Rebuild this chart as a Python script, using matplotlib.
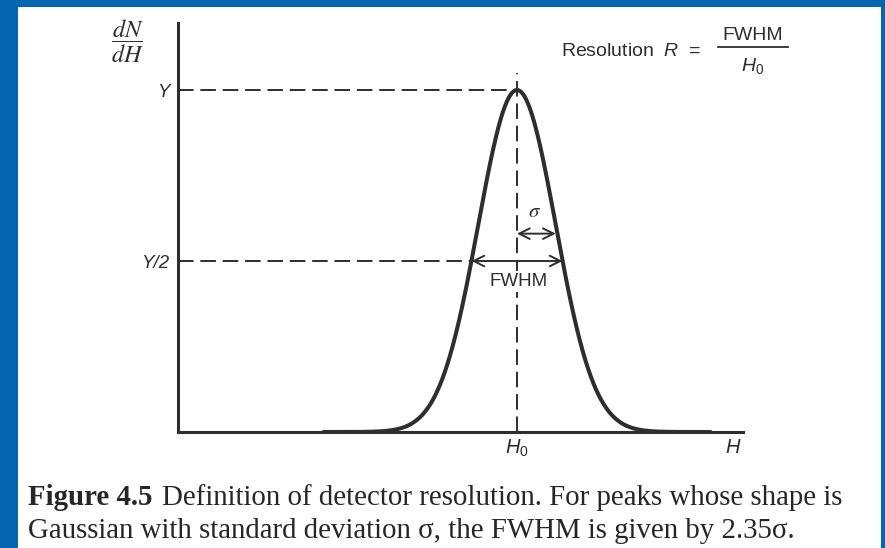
import numpy as np
import matplotlib.pyplot as plt
from matplotlib.patches import Rectangle
from matplotlib.lines import Line2D

plt.rcParams['mathtext.fontset'] = 'custom'
plt.rcParams['mathtext.rm'] = 'Liberation Sans'
plt.rcParams['mathtext.it'] = 'Liberation Sans:italic'
plt.rcParams['mathtext.sf'] = 'Liberation Sans'

# peak parameters (arbitrary units)
H0 = 6.0
sigma = 0.685
Y = 1.0
fwhm = 2.35*sigma
H_end = 9.82

ink = '#2e2e2e'
W, Hpx = 885, 548

fig = plt.figure(figsize=(W/100, Hpx/100), dpi=100, facecolor='#0466b1')
# white page on the blue slide
page = Rectangle((18/W, 0), (881-18)/W, (Hpx-7)/Hpx, transform=fig.transFigure,
                 facecolor='white', edgecolor='none', zorder=-10)
fig.patches.append(page)

ax = fig.add_axes([178/W, (Hpx-432)/Hpx, (743-178)/W, (432-23)/Hpx], zorder=2)
ax.set_facecolor('none')
ax.set_xlim(0, 10)
ax.set_ylim(0, 1.196)
for s in ['top', 'right']:
    ax.spines[s].set_visible(False)
for s in ['left', 'bottom']:
    ax.spines[s].set_linewidth(2.2)
    ax.spines[s].set_color(ink)

x = np.linspace(H0-5*sigma, H0+5*sigma, 600)
y = Y*np.exp(-0.5*((x-H0)/sigma)**2)
ax.plot(x, y, color=ink, lw=2.9, solid_capstyle='round', zorder=3)

dash = dict(color=ink, lw=1.4, dashes=(8, 3.5))
ax.plot([0, H0], [Y, Y], **dash)
ax.plot([0, H0-fwhm/2], [Y/2, Y/2], **dash)
ax.plot([H0, H0], [0, 1.05], **dash)

arr = dict(arrowstyle='<->', color=ink, lw=1.4, mutation_scale=19, shrinkA=0, shrinkB=0)
ax.annotate('', xy=(H0-fwhm/2, Y/2), xytext=(H0+fwhm/2, Y/2), arrowprops=arr)
ax.annotate('', xy=(H0, 0.58), xytext=(H0+sigma, 0.58), arrowprops=arr)

sans = 'Liberation Sans'
ax.text(H0+sigma/2-0.03, 0.645, r'$\sigma$', fontsize=15, color=ink, ha='center', va='center',
        math_fontfamily='stix')
ax.text(H0+0.02, 0.44, 'FWHM', fontsize=13.5, color=ink, ha='center', va='center', family=sans,
        zorder=4, bbox=dict(facecolor='white', edgecolor='none', pad=1.5))

ax.set_yticks([Y, Y/2])
ax.set_yticklabels(['Y', 'Y/2'], family=sans, style='italic', fontsize=13.5, color=ink)
ax.set_xticks([H0, H_end])
ax.set_xticklabels([r'$H_0$', r'$H$'], fontsize=14.5, color=ink)
ax.tick_params(length=0, pad=6)
ax.tick_params(axis='x', pad=4)

fig.text(127/W, 1-41/Hpx, r'$\dfrac{dN}{dH}$', fontsize=17.5, color=ink, ha='center', va='center',
         math_fontfamily='stix')

# resolution formula
fig.text(561/W, 1-56/Hpx, r'Resolution  $R$  =', fontsize=14, color=ink,
         ha='left', va='baseline', family=sans)
fig.text(753/W, 1-40/Hpx, 'FWHM', fontsize=14, color=ink, ha='center', va='baseline', family=sans)
fig.text(753/W, 1-71/Hpx, r'$H_0$', fontsize=14, color=ink, ha='center', va='baseline')
fig.lines.append(Line2D([718/W, 788/W], [1-47/Hpx, 1-47/Hpx], transform=fig.transFigure,
                        color=ink, lw=1.3))

# caption
serif = 'Liberation Serif'
cap = dict(fontsize=20.8, color='#262626', family=serif, va='baseline')
lab = fig.text(28/W, 1-505/Hpx, 'Figure 4.5', fontweight='bold', **cap)
fig.canvas.draw()
x1 = lab.get_window_extent().x1 + 10
fig.text(x1/W, 1-505/Hpx, 'Definition of detector resolution. For peaks whose shape is', **cap)
fig.text(28/W, 1-538/Hpx, 'Gaussian with standard deviation \u03c3, the FWHM is given by 2.35\u03c3.', **cap)

fig.savefig('out.png', dpi=100, facecolor=fig.get_facecolor())
